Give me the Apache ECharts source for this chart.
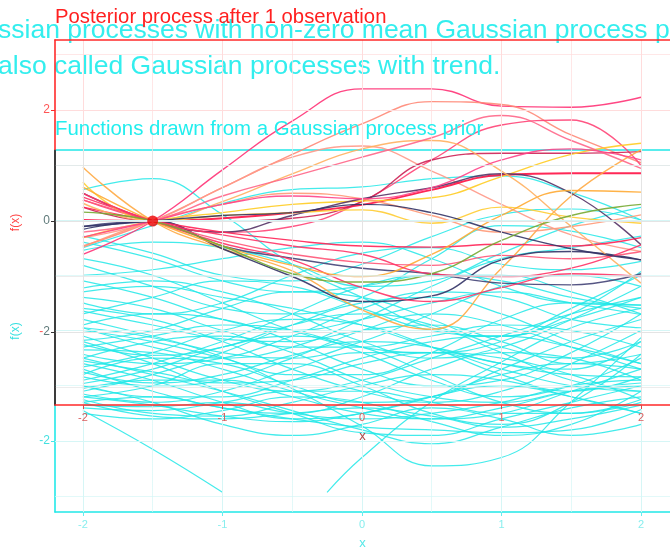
<!DOCTYPE html>
<html><head><meta charset="utf-8">
<script src="https://cdn.jsdelivr.net/npm/echarts@6.0.0/dist/echarts.min.js"></script>
<style>html,body{margin:0;padding:0;background:#fff;}#c{width:670px;height:555px;}</style>
</head><body><div id="c"></div>
<script>
// ---------- data ----------
const xs = [-2, -1.5, -1, -0.5, 0, 0.5, 1, 1.5, 2];
const xTicks = [-2, -1, 0, 1, 2];
const xMinor = [-1.5, -0.5, 0.5, 1.5];
const yTicks = [-2, 0, 2];
const yMinor = [-3, -1, 1, 3];
const obsX = [-1.5];
const obsY = [0];

// posterior draws (after 1 observation at x=-1.5, f=0)
const posteriorCurves = [
  [-0.60, 0, 0.92, 1.80, 2.38, 2.38, 2.07, 2.05, 2.23],
  [-0.45, 0, 0.60, 1.20, 1.75, 2.15, 2.10, 1.55, 1.05],
  [0.38, 0, -0.20, -0.10, 0.35, 1.10, 1.73, 1.82, 1.00],
  [-0.30, 0, 0.60, 1.15, 1.35, 0.90, 0.30, -0.25, -0.55],
  [0.02, 0, 0.05, 0.15, 0.29, 0.56, 0.83, 0.86, 0.86],
  [0.25, 0, 0.00, 0.05, 0.35, 1.10, 1.22, 1.22, 1.25],
  [-0.30, 0, 0.15, 0.30, 0.36, 0.42, 0.80, 1.20, 1.40],
  [0.97, 0, -0.50, -0.90, -1.60, -1.95, -0.85, 0.45, 1.28],
  [-0.15, 0, -0.50, -1.00, -1.45, -1.35, -0.70, -0.55, -0.70],
  [-0.10, 0, -0.45, -0.67, -0.85, -0.95, -1.12, -1.15, -0.95],
  [0.50, 0, -0.20, 0.10, 0.40, 0.60, 0.85, 0.50, -0.43],
  [0.43, 0, -0.40, -0.70, -1.20, -1.45, -1.20, -0.95, -1.00],
  [0.25, 0, -0.20, -0.35, -0.45, -0.47, -0.42, -0.45, -0.30],
  [-0.47, 0, 0.30, 0.50, 0.40, 0.10, -0.20, -0.10, 0.11],
  [0.70, 0, 0.10, 0.15, 0.20, -0.04, 0.25, 0.07, -0.04],
  [0.61, 0, -0.45, -0.80, -1.00, -0.60, 0.10, 0.55, 0.52],
  [0.32, 0, 0.35, 0.85, 1.30, 1.45, 0.90, -0.10, -1.12],
  [-0.20, 0, 0.45, 0.80, 1.15, 1.50, 1.90, 1.45, 0.95],
  [0.38, 0, -0.35, -0.60, -0.75, -0.80, -0.62, -0.68, -0.55],
  [0.50, 0, -0.25, -0.45, -0.60, -0.95, -1.00, -0.85, -0.43],
  [-0.29, 0, 0.30, 0.45, 0.40, 0.60, 1.10, 1.30, 1.10],
  [-0.10, 0, 0.10, 0.15, 0.30, 0.15, -0.20, -0.50, -0.70],
  [0.16, 0, -0.45, -0.95, -1.10, -0.95, -0.35, 0.10, 0.30]
];
const posteriorColors = ['#ff3377','#ff8877','#ff4477','#ff9988','#ff1144','#cc2255','#ffcc22',
  '#ffaa44','#333366','#444477','#553366','#ff3366','#ff2255','#ff9977','#ffcc33','#ffaa33',
  '#ffb060','#ff6688','#ff5577','#ff3366','#ff4488','#333366','#77aa33'];

// prior draws (Gaussian process prior with trend)
const priorCurves = [
  [2.55, 2.75, 2.10, 1.20, 0.60, 0.05, -0.10, 0.20, 0.60],
  [1.71, 1.40, 1.00, 0.90, 1.20, 1.70, 2.10, 2.20, 2.00],
  [1.45, 1.60, 1.50, 1.20, 0.80, 0.90, 1.40, 1.90, 2.23],
  [1.18, 0.80, 0.40, 0.30, 0.60, 1.30, 1.90, 1.80, 1.50],
  [1.00, 1.10, 1.30, 1.50, 1.60, 1.30, 0.80, 0.50, 0.46],
  [0.77, 0.90, 0.70, 0.30, -0.20, -0.50, -0.30, 0.20, 0.80],
  [0.50, 0.30, 0.50, 1.00, 1.40, 1.50, 1.20, 1.10, 1.25],
  [0.30, 0.60, 0.90, 0.80, 0.40, 0.00, -0.10, 0.30, 1.07],
  [0.05, -0.30, -0.50, -0.30, 0.20, 0.80, 1.30, 1.50, 1.71],
  [-0.18, 0.00, 0.40, 0.70, 0.60, 0.20, -0.30, -0.50, -0.20],
  [-0.43, -0.60, -0.50, -0.10, 0.40, 0.70, 0.60, 0.20, 0.05],
  [-0.66, -0.40, 0.00, 0.20, 0.10, -0.30, -0.80, -1.10, -0.84],
  [-0.84, -1.00, -0.90, -0.50, 0.00, 0.30, 0.10, -0.30, -0.70],
  [-0.96, -0.70, -0.30, -0.10, -0.30, -0.80, -1.30, -1.50, -1.25],
  [-1.20, -1.00, -0.60, -0.60, -1.00, -1.50, -1.70, -1.30, -0.43],
  [0.05, -0.13, -0.48, -1.05, -1.73, -2.45, -2.30, -1.29, -0.13],
  [-0.50, -0.80, -1.10, -1.45, -1.80, -2.05, -1.75, -1.40, -1.20],
  [-1.30, -1.20, -1.40, -1.60, -1.75, -1.80, -1.85, -1.80, -1.43],
  [-1.35, -1.38, -1.30, -1.50, -1.60, -1.50, -1.30, -1.00, -0.90],
  [-1.25, -1.50, -1.55, -1.30, -1.00, -0.80, -0.90, -1.20, -1.50],
  [-0.60, -0.90, -1.30, -1.60, -1.50, -1.20, -0.80, -0.60, -0.70],
  [0.40, 0.20, -0.20, -0.70, -1.10, -1.30, -1.10, -0.60, 0.00],
  [0.10, 0.30, 0.20, -0.20, -0.70, -1.00, -0.90, -0.40, 0.30],
  [-0.30, -0.10, 0.10, 0.00, -0.40, -0.90, -1.20, -1.00, -0.50],
  [-0.50, -0.20, -0.10, -0.40, -0.90, -1.20, -1.30, -1.10, -1.00],
  [-1.00, -1.20, -1.20, -0.90, -0.50, -0.20, -0.10, -0.30, -0.60],
  [-0.80, -0.50, -0.60, -1.00, -1.30, -1.20, -0.70, -0.20, 0.20],
  [0.60, 0.40, 0.00, -0.30, -0.30, -0.10, 0.10, 0.00, -0.30],
  [0.90, 0.60, 0.20, 0.00, 0.20, 0.50, 0.70, 0.50, 0.29],
  [-0.10, -0.50, -0.90, -1.10, -0.90, -0.50, -0.10, 0.30, 0.60],
  [-1.10, -0.80, -0.40, 0.10, 0.50, 0.60, 0.30, -0.20, -0.60],
  [0.20, -0.10, -0.40, -0.50, -0.20, 0.30, 0.80, 1.00, 0.80],
  [-0.70, -1.10, -1.40, -1.50, -1.20, -0.70, -0.40, -0.50, -0.90],
  [-1.15, -1.30, -1.10, -0.70, -0.40, -0.40, -0.70, -1.00, -1.10],
  [1.30, 1.00, 0.50, 0.00, -0.30, -0.40, -0.20, 0.40, 1.00],
  [-0.35, -0.40, -0.70, -1.10, -1.40, -1.60, -1.50, -1.10, -0.70],
  [0.70, 0.80, 0.60, 0.40, 0.10, -0.30, -0.60, -0.80, -0.84],
  [-0.90, -0.60, -0.20, 0.30, 0.80, 1.00, 0.90, 0.60, 0.40],
  [0.00, -0.20, -0.50, -0.80, -0.80, -0.40, 0.20, 0.50, 0.46],
  [-1.40, -1.45, -1.30, -1.10, -1.10, -1.30, -1.50, -1.50, -1.30],
  [-1.30, -1.55, -1.60, -1.50, -1.40, -1.55, -1.75, -1.60, -1.35],
  [1.50, 1.90, 2.30, 2.55, 2.60, 2.75, 2.80, 2.50, 2.00],
  [-0.25, -0.45, -0.30, 0.10, 0.30, 0.10, -0.40, -0.90, -1.10],
  [-0.55, -0.75, -0.95, -0.90, -0.60, -0.40, -0.50, -0.80, -1.25],
  [-1.05, -0.90, -0.90, -1.20, -1.50, -1.60, -1.40, -1.10, -0.95],
  [0.35, 0.10, -0.15, -0.20, 0.00, 0.10, -0.20, -0.60, -0.43],
  [-0.75, -0.95, -0.80, -0.45, -0.20, -0.30, -0.60, -0.70, -0.20],
  [-1.20, -1.35, -1.55, -1.65, -1.50, -1.20, -1.00, -1.20, -1.50],
  [-1.00, -1.30, -1.70, -1.90, -1.70, -1.40, -1.60, -1.90, -1.70],
  [-0.20, -0.60, -1.10, -1.50, -1.85, -1.90, -1.60, -1.30, -1.00],
  [-1.50, -1.60, -1.45, -1.20, -1.30, -1.65, -1.90, -1.70, -1.10],
  [1.60, 1.30, 0.90, 0.70, 0.80, 1.00, 1.00, 0.70, 0.30]
];
// prior draws that leave the plotted range (only the visible part)
const priorPartialX = [[-2, -1.5, -1], [-0.25, 0, 0.5, 1, 1.5, 2]];
const priorPartialY = [[-1.45, -2.15, -2.93], [-2.93, -2.30, -1.29, -0.57, 0.05, 0.40]];

// ---------- chart ----------
const FONT = 'Liberation Sans, Arial, Helvetica, sans-serif';
const G = echarts.graphic.LinearGradient;
const RED = '#ff2a2a', CYAN = '#22e8e8';
const XMIN = -2.2, XMAX = 2.208;

function pairs(xv, yv) { return xv.map((x, i) => [x, yv[i]]); }
function leftGradA() { return new G(0, 40, 0, 405, [{ offset: 0, color: RED }, { offset: 0.3, color: RED }, { offset: 0.302, color: '#333333' }, { offset: 1, color: '#333333' }], true); }
function leftGradB() { return new G(0, 150, 0, 517, [{ offset: 0, color: '#333333' }, { offset: 0.693, color: '#333333' }, { offset: 0.697, color: CYAN }, { offset: 1, color: CYAN }], true); }

const series = [];
series.push({
  type: 'line', xAxisIndex: 1, yAxisIndex: 1, data: [], z: 1, silent: true,
  markLine: {
    silent: true, symbol: 'none', animation: false, label: { show: false },
    data: [
      ...yTicks.concat(yMinor).map(v => ({ yAxis: v, lineStyle: { color: '#d6f6f6', width: yTicks.includes(v) ? 1 : 0.7, type: 'solid' } })),
      ...xTicks.concat(xMinor).map(v => ({ xAxis: v, lineStyle: { type: 'solid', width: xTicks.includes(v) ? 1 : 0.7,
        color: new G(0, 150, 0, 517, [{ offset: 0, color: '#e4e4e4' }, { offset: 0.69, color: '#e4e4e4' }, { offset: 0.695, color: '#d6f6f6' }, { offset: 1, color: '#d6f6f6' }], true) } }))
    ]
  }
});
series.push({
  type: 'line', xAxisIndex: 0, yAxisIndex: 0, data: [], z: 1, silent: true,
  markLine: {
    silent: true, symbol: 'none', animation: false, label: { show: false },
    data: [
      ...yTicks.concat(yMinor).map(v => ({ yAxis: v, lineStyle: { color: v >= 2 ? '#ffdcdc' : '#e4e4e4', width: yTicks.includes(v) ? 1 : 0.7, type: 'solid' } })),
      ...xTicks.concat(xMinor).map(v => ({ xAxis: v, lineStyle: { type: 'solid', width: xTicks.includes(v) ? 1 : 0.7,
        color: new G(0, 40, 0, 405, [{ offset: 0, color: '#ffdcdc' }, { offset: 0.3, color: '#ffdcdc' }, { offset: 0.305, color: '#e4e4e4' }, { offset: 1, color: '#e4e4e4' }], true) } }))
    ]
  }
});
priorCurves.forEach(ys => series.push({
  type: 'line', xAxisIndex: 1, yAxisIndex: 1, data: pairs(xs, ys), smooth: 0.45, symbol: 'none', z: 2, silent: true,
  lineStyle: { color: CYAN, width: 1.2, opacity: 0.85 }
}));
priorPartialX.forEach((xv, k) => series.push({
  type: 'line', xAxisIndex: 1, yAxisIndex: 1, data: pairs(xv, priorPartialY[k]), smooth: 0.45, symbol: 'none', z: 2, silent: true,
  lineStyle: { color: CYAN, width: 1.2, opacity: 0.85 }
}));
posteriorCurves.forEach((ys, k) => series.push({
  type: 'line', xAxisIndex: 0, yAxisIndex: 0, data: pairs(xs, ys), smooth: 0.45, symbol: 'none', z: 3, silent: true,
  lineStyle: { color: posteriorColors[k], width: k === 4 ? 1.9 : 1.4, opacity: 0.9 }
}));
series.push({
  type: 'scatter', xAxisIndex: 0, yAxisIndex: 0, data: pairs(obsX, obsY), symbolSize: 11, z: 6, silent: true,
  itemStyle: { color: '#ee0000' }
});

function topBorderAxis(gridIndex, color, z) {
  return { type: 'value', gridIndex, position: 'top', min: XMIN, max: XMAX, z,
    axisLine: { show: true, onZero: false, lineStyle: { color, width: 1.5 } },
    axisTick: { show: false }, axisLabel: { show: false }, splitLine: { show: false } };
}

const option = {
  animation: false,
  backgroundColor: '#ffffff',
  textStyle: { fontFamily: FONT },
  title: [
    { text: 'Posterior process after 1 observation', left: 55, top: 7, padding: 0,
      textStyle: { color: '#ff2020', fontSize: 20.3, fontWeight: 'normal', fontFamily: FONT } },
    { text: 'Functions drawn from a Gaussian process prior', left: 55, top: 119, padding: 0,
      textStyle: { color: '#22eeee', fontSize: 20.4, fontWeight: 'normal', fontFamily: FONT } }
  ],
  graphic: [
    { type: 'text', x: -2, y: 31, silent: true, style: { text: 'ssian processes with non-zero mean Gaussian process priors', fill: '#33eeee', fontSize: 26.5, fontFamily: FONT, verticalAlign: 'middle' } },
    { type: 'text', x: -2, y: 67, silent: true, style: { text: 'also called Gaussian processes with trend.', fill: '#33eeee', fontSize: 26.5, fontFamily: FONT, verticalAlign: 'middle' } }
  ],
  grid: [
    { left: 55, top: 40, right: 0, height: 365, show: false, containLabel: false },
    { left: 55, top: 150, right: 0, height: 367, show: false, containLabel: false }
  ],
  xAxis: [
    { type: 'value', gridIndex: 0, min: XMIN, max: XMAX, z: 5,
      axisLine: { show: true, onZero: false, lineStyle: { color: RED, width: 1.5 } },
      splitLine: { show: false },
      axisTick: { show: true, customValues: xTicks, length: 4, lineStyle: { color: '#e04848' } },
      axisLabel: { show: true, customValues: xTicks, color: '#d86060', fontSize: 11, margin: 7, fontFamily: FONT },
      name: 'x', nameLocation: 'middle', nameGap: 25, nameTextStyle: { color: '#b04444', fontSize: 13, fontFamily: FONT } },
    { type: 'value', gridIndex: 1, min: XMIN, max: XMAX, z: 0,
      axisLine: { show: true, onZero: false, lineStyle: { color: CYAN, width: 1.5 } },
      splitLine: { show: false },
      axisTick: { show: true, customValues: xTicks, length: 4, lineStyle: { color: '#66eeee' } },
      axisLabel: { show: true, customValues: xTicks, color: '#88eeee', fontSize: 11, margin: 7, fontFamily: FONT },
      name: 'x', nameLocation: 'middle', nameGap: 25, nameTextStyle: { color: '#55e8e8', fontSize: 13, fontFamily: FONT } },
    topBorderAxis(0, RED, 5),
    topBorderAxis(1, CYAN, 0)
  ],
  yAxis: [
    { type: 'value', gridIndex: 0, min: -3.315, max: 3.261, z: 5,
      axisLine: { show: true, onZero: false, lineStyle: { width: 1.6, color: leftGradA() } },
      splitLine: { show: false },
      axisTick: { show: true, customValues: yTicks, length: 4, lineStyle: { color: leftGradA() } },
      axisLabel: { show: true, customValues: yTicks, fontSize: 12, margin: 5, fontFamily: FONT,
        formatter: v => v === 2 ? '{r|2}' : (v === 0 ? '{g|0}' : '{r|-}{g|2}'),
        rich: { r: { color: '#ff5555', fontSize: 12, fontFamily: FONT }, g: { color: '#5f7a7a', fontSize: 12, fontFamily: FONT } } },
      name: 'f(x)', nameLocation: 'middle', nameGap: 33, nameTextStyle: { color: '#ff4444', fontSize: 12, fontFamily: FONT } },
    { type: 'value', gridIndex: 1, min: -3.286, max: 3.268, z: 0,
      axisLine: { show: true, onZero: false, lineStyle: { width: 1.6, color: leftGradB() } },
      splitLine: { show: false },
      axisTick: { show: true, customValues: [-2], length: 4, lineStyle: { color: '#44e8e8' } },
      axisLabel: { show: true, customValues: [-2], color: '#44e0e0', fontSize: 12, margin: 5, fontFamily: FONT },
      name: 'f(x)', nameLocation: 'middle', nameGap: 33, nameTextStyle: { color: '#33e0e0', fontSize: 12, fontFamily: FONT } }
  ],
  series: series
};
const chart = echarts.init(document.getElementById('c'), null, { renderer: 'canvas' });
chart.setOption(option);
</script></body></html>
